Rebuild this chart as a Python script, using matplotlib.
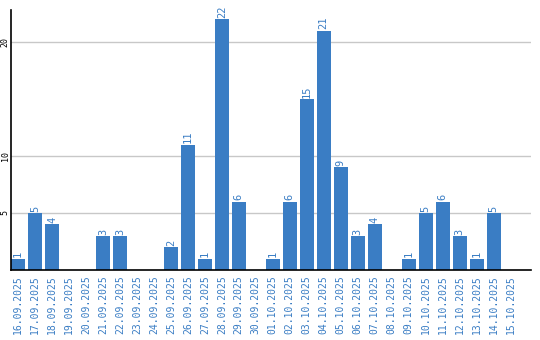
import matplotlib
matplotlib.use("Agg")
import matplotlib.pyplot as plt

dates = ["16.09.2025", "17.09.2025", "18.09.2025", "19.09.2025", "20.09.2025",
         "21.09.2025", "22.09.2025", "23.09.2025", "24.09.2025", "25.09.2025",
         "26.09.2025", "27.09.2025", "28.09.2025", "29.09.2025", "30.09.2025",
         "01.10.2025", "02.10.2025", "03.10.2025", "04.10.2025", "05.10.2025",
         "06.10.2025", "07.10.2025", "08.10.2025", "09.10.2025", "10.10.2025",
         "11.10.2025", "12.10.2025", "13.10.2025", "14.10.2025", "15.10.2025"]
counts = [1, 5, 4, 0, 0, 3, 3, 0, 0, 2, 11, 1, 22, 6, 0,
          1, 6, 15, 21, 9, 3, 4, 0, 1, 5, 6, 3, 1, 5, 0]
yticks = [5, 10, 20]

blue = "#3a7dc4"

fig = plt.figure(figsize=(5.4, 3.4), dpi=100)
ax = fig.add_axes([11 / 540, 70 / 340, 520 / 540, 260 / 340])

x = list(range(len(dates)))
ax.bar(x, counts, width=0.82, color=blue, zorder=2)

# value labels above non-zero bars
for xi, v in zip(x, counts):
    if v > 0:
        ax.text(xi, v + 0.1, str(v), rotation=90, ha="center", va="bottom",
                color=blue, fontsize=7.5, family="DejaVu Sans Mono")

ax.set_xlim(-0.41, 30.2)
ax.set_ylim(0, 22.8)

ax.set_yticks(yticks)
ax.set_yticklabels([str(t) for t in yticks], rotation=90, va="center",
                   fontsize=6, family="DejaVu Sans Mono")
ax.tick_params(axis="y", length=0, pad=1)
ax.grid(axis="y", color="#c8c8c8", linewidth=1, zorder=0)

ax.set_xticks(x)
ax.set_xticklabels(dates, rotation=90, fontsize=7, color=blue,
                   family="DejaVu Sans Mono")
ax.tick_params(axis="x", length=0, pad=4)

for s in ["top", "right"]:
    ax.spines[s].set_visible(False)
ax.spines["left"].set_linewidth(1.2)
ax.spines["bottom"].set_linewidth(1.2)

fig.savefig("out.png", dpi=100)
